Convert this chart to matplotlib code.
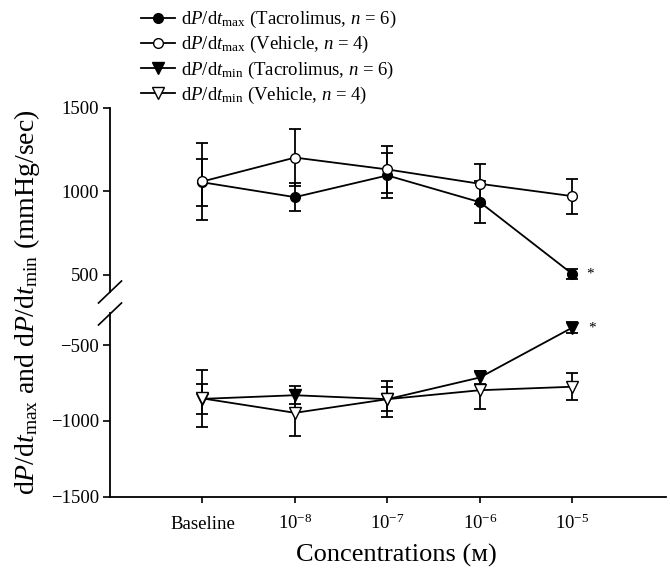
import matplotlib
matplotlib.use('AGG')
import matplotlib.pyplot as plt
from matplotlib.lines import Line2D
import numpy as np

plt.rcParams['font.family'] = ['Liberation Serif', 'DejaVu Serif']
plt.rcParams['mathtext.fontset'] = 'custom'
plt.rcParams['mathtext.rm'] = 'Liberation Serif'
plt.rcParams['mathtext.it'] = 'Liberation Serif:italic'

conc_labels = ['Baseline', r'$10^{-8}$', r'$10^{-7}$', r'$10^{-6}$', r'$10^{-5}$']

max_tac = [1055, 966, 1096, 936, 506]
max_tac_err = [140, 85, 137, 124, 30]
max_veh = [1060, 1203, 1132, 1046, 972]
max_veh_err = [230, 170, 140, 120, 105]

min_tac = [-855, -831, -857, -714, -385]
min_tac_err = [100, 60, 80, 45, 35]
min_veh = [-852, -947, -857, -798, -775]
min_veh_err = [190, 150, 120, 125, 88]

top_ticks = [500, 1000, 1500]
bot_ticks = [-1500, -1000, -500]

x = np.arange(len(conc_labels))

fig = plt.figure(figsize=(6.7, 5.71), dpi=100)
ax_top = fig.add_axes([0.1642, 0.4886, 0.8294, 0.3223])
ax_bot = fig.add_axes([0.1642, 0.1301, 0.8294, 0.3217])

lw = 1.3
common = dict(color='black', lw=lw, capsize=4.5, capthick=lw, elinewidth=lw)

ax_top.errorbar(x, max_tac, yerr=max_tac_err, fmt='-o', ms=7, mfc='black', mec='black', **common)
ax_top.errorbar(x, max_veh, yerr=max_veh_err, fmt='-o', ms=7, mfc='white', mec='black', **common)
ax_bot.errorbar(x, min_tac, yerr=min_tac_err, fmt='-v', ms=8.5, mfc='black', mec='black', **common)
ax_bot.errorbar(x, min_veh, yerr=min_veh_err, fmt='-v', ms=8.5, mfc='white', mec='black', **common)

# significance marks
ax_top.text(x[-1] + 0.19, max_tac[-1], '*', ha='center', va='center', fontsize=11)
ax_bot.text(x[-1] + 0.21, min_tac[-1], '*', ha='center', va='center', fontsize=11)

for ax in (ax_top, ax_bot):
    ax.set_xlim(-1, 5.01)
    ax.spines['top'].set_visible(False)
    ax.spines['right'].set_visible(False)
    ax.spines['left'].set_linewidth(1.3)
    ax.tick_params(axis='y', direction='out', length=5, width=1.2, pad=3, labelsize=13.5)

ax_top.set_ylim(398, 1500)
ax_top.spines['bottom'].set_visible(False)
ax_top.set_xticks([])
ax_top.set_yticks(top_ticks)
ax_top.set_yticklabels([str(t) for t in top_ticks])

ax_bot.set_ylim(-1500, -289)
ax_bot.spines['bottom'].set_linewidth(1.3)
ax_bot.set_yticks(bot_ticks)
ax_bot.set_yticklabels([str(t).replace('-', '\u2212') for t in bot_ticks])
ax_bot.set_xticks(x)
ax_bot.set_xticklabels(conc_labels)
ax_bot.tick_params(axis='x', direction='out', length=4, width=1.2, pad=19, labelsize=13.5)
plt.setp(ax_bot.get_xticklabels(), va='baseline')

# axis break marks
W, H = 670.0, 571.0
for yc in (292, 314):
    fig.add_artist(Line2D([98.5 / W, 121.5 / W], [1 - (yc + 11) / H, 1 - (yc - 11) / H],
                          color='black', lw=1.2, transform=fig.transFigure))

fig.text(27 / W, 1 - 302 / H,
         r'd$P$/d$t_{\mathrm{max}}$ and d$P$/d$t_{\mathrm{min}}$ (mmHg/sec)',
         rotation=90, ha='center', va='center', fontsize=20)
fig.text(396 / W, 1 - 555 / H, 'Concentrations (\u1d0d)', ha='center', va='center', fontsize=19)

handles = [
    Line2D([], [], color='black', lw=lw, marker='o', ms=7, mfc='black', mec='black'),
    Line2D([], [], color='black', lw=lw, marker='o', ms=7, mfc='white', mec='black'),
    Line2D([], [], color='black', lw=lw, marker='v', ms=8.5, mfc='black', mec='black'),
    Line2D([], [], color='black', lw=lw, marker='v', ms=8.5, mfc='white', mec='black'),
]
labels = [
    r'd$P$/d$t_{\mathrm{max}}$ (Tacrolimus, $n$ = 6)',
    r'd$P$/d$t_{\mathrm{max}}$ (Vehicle, $n$ = 4)',
    r'd$P$/d$t_{\mathrm{min}}$ (Tacrolimus, $n$ = 6)',
    r'd$P$/d$t_{\mathrm{min}}$ (Vehicle, $n$ = 4)',
]
fig.legend(handles, labels, loc='upper left', bbox_to_anchor=(141 / W, 1 - 9 / H),
           frameon=False, fontsize=13.5, handlelength=1.8, handletextpad=0.35,
           labelspacing=0.22, borderpad=0, borderaxespad=0)

plt.savefig('out.png', dpi=100)
